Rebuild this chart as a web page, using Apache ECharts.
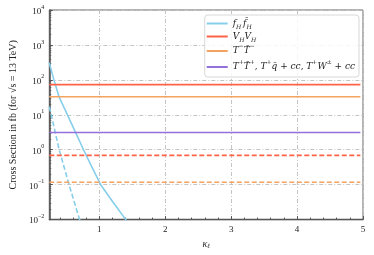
<!DOCTYPE html>
<html>
<head>
<meta charset="utf-8">
<script src="https://cdn.jsdelivr.net/npm/echarts@6/dist/echarts.min.js"></script>
<style>html,body{margin:0;padding:0;background:#fff;}#c{width:374px;height:255px;}</style>
</head>
<body>
<div id="c"></div>
<script>
// ---- data ----
const xMin = 0.24, xMax = 5;
const xMajorTicks = [1, 2, 3, 4, 5];
const xMinorTicks = [0.4, 0.6, 0.8, 1.2, 1.4, 1.6, 1.8, 2.2, 2.4, 2.6, 2.8, 3.2, 3.4, 3.6, 3.8, 4.2, 4.4, 4.6, 4.8];
const yMin = 0.01, yMax = 10000;
const yMinorMultipliers = [2, 3, 4, 5, 6, 7, 8, 9];
const yDecades = [-2, -1, 0, 1, 2, 3];

const fhKappa = [0.24, 0.31, 0.39, 0.5, 0.64, 0.76, 0.88, 1.02, 1.2, 1.4, 1.5];
const fhSolid = [310, 100, 32, 11.5, 3.1, 1.0, 0.34, 0.1, 0.033, 0.01, 0.0055];
const fhDashKappa = [0.24, 0.27, 0.39, 0.54, 0.70, 0.75];
const fhDashed = [17, 10, 1.0, 0.1, 0.01, 0.005];

const flatKappa = [0.24, 4.96];
const vhSolid = 73, vhDashed = 0.69;
const ttSolid = 33, ttDashed = 0.117;
const tpSolid = 3.1;

const colBlue = '#87ceeb', colRed = '#ff6347', colOrange = '#f4a460', colPurple = '#9370db';

const pairs = (xs, ys) => xs.map((x, i) => [x, ys[i]]);
const flat = (v) => flatKappa.map(x => [x, v]);

const minorLogTicks = [];
yDecades.forEach(d => yMinorMultipliers.forEach(m => minorLogTicks.push(Math.log10(m) + d)));

const serif = 'Liberation Serif';
const legSerif = 'DejaVu Serif';
const textCol = '#222';
const gridDash = [4, 2, 1, 2];

const chart = echarts.init(document.getElementById('c'), null, {renderer: 'canvas'});

function line(name, data, color, dashed) {
  return {
    name, type: 'line', data, xAxisIndex: 0, yAxisIndex: 0,
    showSymbol: false, symbol: 'none', silent: true, clip: true,
    lineStyle: {color, width: 1.6, type: dashed ? [5, 2.5] : 'solid'},
    itemStyle: {color}, z: 3
  };
}

const supMap = {'-2': '−2', '-1': '−1', '0': '0', '1': '1', '2': '2', '3': '3', '4': '4'};

chart.setOption({
  animation: false,
  backgroundColor: '#fff',
  grid: {left: 45, right: 11, top: 10, bottom: 35, show: true, borderColor: '#666', borderWidth: 1, backgroundColor: 'transparent', containLabel: false},
  legend: {
    data: ['fH', 'VH', 'TT', 'TP'],
    orient: 'vertical', right: 15, top: 15,
    icon: 'rect', itemWidth: 21, itemHeight: 2, itemGap: 0,
    padding: [2, 4, 2, 2],
    borderColor: '#d8d8d8', borderWidth: 1, borderRadius: 3,
    backgroundColor: 'rgba(255,255,255,0.85)',
    selectedMode: false,
    textStyle: {
      fontFamily: legSerif, fontSize: 9, color: textCol, lineHeight: 13,
      rich: {
        i: {fontFamily: legSerif, fontStyle: 'italic', fontSize: 9, color: textCol, lineHeight: 13, verticalAlign: 'middle'},
        r: {fontFamily: legSerif, fontSize: 9, color: textCol, lineHeight: 13, verticalAlign: 'middle'},
        s: {fontFamily: legSerif, fontStyle: 'italic', fontSize: 6, color: textCol, lineHeight: 10, verticalAlign: 'bottom'},
        p: {fontFamily: legSerif, fontSize: 6, color: textCol, lineHeight: 16, verticalAlign: 'top'}
      }
    },
    formatter: function (n) {
      if (n === 'fH') return '{i|f}{s|H}{i|\u2009f\u0304}{s|H}';
      if (n === 'VH') return '{i|V}{s|H}{i|V}{s|H}';
      if (n === 'TT') return '{i|T}{p|−}{i|T\u0304}{p|−}';
      return '{i|T}{p|+}{i|T\u0304}{p|+}{r|, }{i|T}{p|+}{i|q\u0304}{r| + }{i|cc}{r|, }{i|T}{p|+}{i|W}{p|±}{r| + }{i|cc}';
    }
  },
  xAxis: [
    {
      type: 'value', min: xMin, max: xMax, position: 'bottom',
      name: '{i|κ}{s|ℓ}', nameLocation: 'middle', nameGap: 17,
      nameTextStyle: {rich: {
        i: {fontFamily: serif, fontStyle: 'italic', fontSize: 10, color: textCol},
        s: {fontFamily: serif, fontStyle: 'italic', fontSize: 6.5, color: textCol, padding: [4, 0, 0, 0]}
      }},
      axisLine: {show: true, onZero: false, lineStyle: {color: '#555', width: 1.3}},
      axisTick: {show: true, inside: true, length: 3.5, customValues: xMajorTicks, lineStyle: {color: '#555', width: 1}},
      axisLabel: {show: true, customValues: xMajorTicks, fontFamily: serif, fontSize: 9, color: textCol, margin: 6},
      splitLine: {show: true, lineStyle: {color: '#c4c4c4', width: 1, type: gridDash}}
    },
    {
      type: 'value', min: xMin, max: xMax, position: 'bottom',
      axisLine: {show: false, onZero: false},
      axisTick: {show: true, inside: true, length: 2, customValues: xMinorTicks, lineStyle: {color: '#555', width: 1}},
      axisLabel: {show: false},
      splitLine: {show: false}
    }
  ],
  yAxis: [
    {
      type: 'log', logBase: 10, min: yMin, max: yMax, interval: 1, position: 'left',
      name: 'Cross Section in fb (for √s = 13 TeV)', nameLocation: 'middle', nameGap: 31,
      nameTextStyle: {fontFamily: serif, fontSize: 10, color: textCol},
      axisLine: {show: true, onZero: false, lineStyle: {color: '#555', width: 1.6}},
      axisTick: {show: true, inside: true, length: 3.5, lineStyle: {color: '#555', width: 1}},
      axisLabel: {
        fontFamily: serif, fontSize: 9, color: textCol, margin: 5,
        formatter: function (v) {
          const e = Math.round(Math.log10(v));
          return '{b|10}{p|' + supMap[String(e)] + '}';
        },
        rich: {
          b: {fontFamily: serif, fontSize: 9, color: textCol, lineHeight: 12, verticalAlign: 'bottom'},
          p: {fontFamily: serif, fontSize: 6, color: textCol, lineHeight: 12, verticalAlign: 'top'}
        }
      },
      splitLine: {show: true, lineStyle: {color: '#c4c4c4', width: 1, type: gridDash}}
    },
    {
      type: 'value', min: -2, max: 4, position: 'left',
      axisLine: {show: false, onZero: false},
      axisTick: {show: true, inside: true, length: 2, customValues: minorLogTicks, lineStyle: {color: '#555', width: 0.8}},
      axisLabel: {show: false},
      splitLine: {show: false}
    }
  ],
  series: [
    line('fH', pairs(fhKappa, fhSolid), colBlue, false),
    line('fH-d', pairs(fhDashKappa, fhDashed), colBlue, true),
    line('VH', flat(vhSolid), colRed, false),
    line('VH-d', flat(vhDashed), colRed, true),
    line('TT', flat(ttSolid), colOrange, false),
    line('TT-d', flat(ttDashed), colOrange, true),
    line('TP', flat(tpSolid), colPurple, false)
  ]
});
</script>
</body>
</html>
